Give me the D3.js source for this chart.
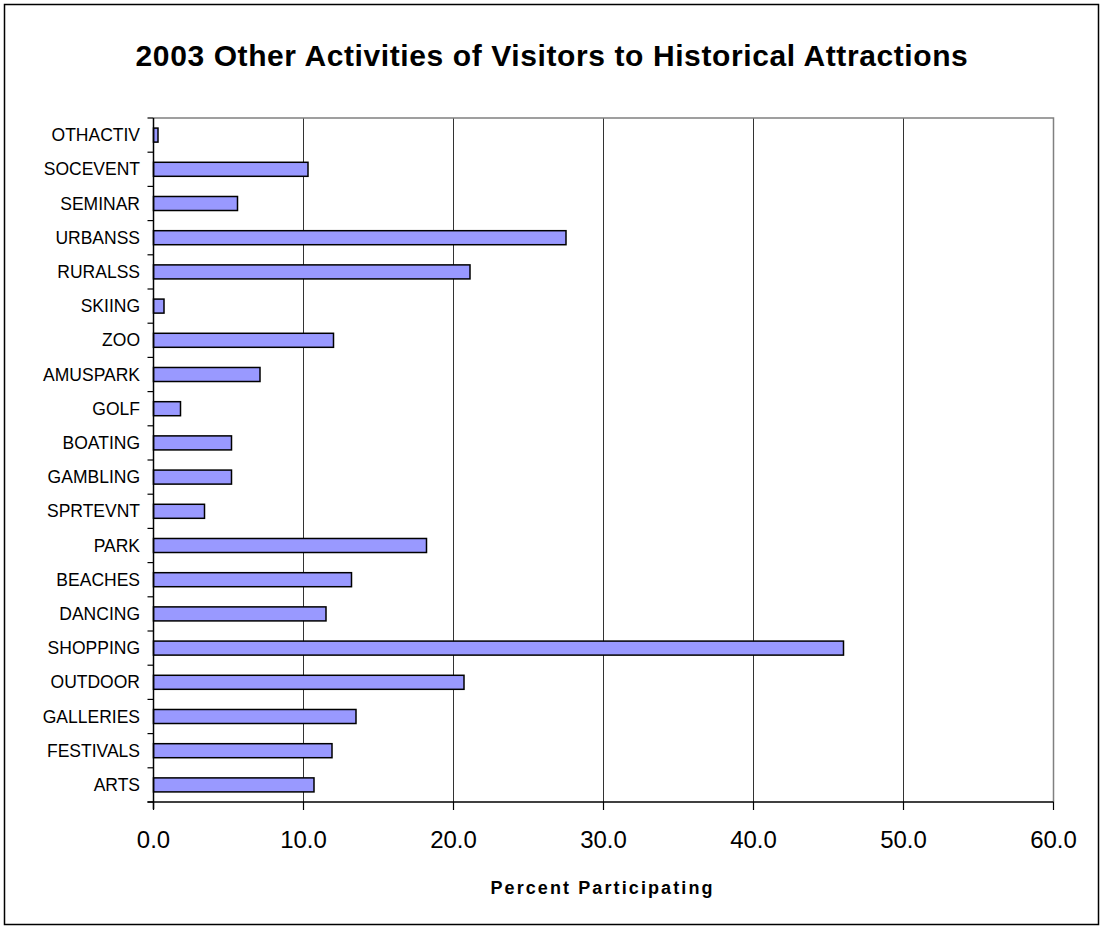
<!DOCTYPE html>
<html>
<head>
<meta charset="utf-8">
<script src="https://cdn.jsdelivr.net/npm/d3@7/dist/d3.min.js"></script>
<style>
  html, body { margin: 0; padding: 0; background: #fff; }
  svg { display: block; font-family: "Liberation Sans", Arial, sans-serif; }
</style>
</head>
<body>
<svg id="chart" width="1100" height="928"></svg>
<script>
const categories = ["OTHACTIV","SOCEVENT","SEMINAR","URBANSS","RURALSS","SKIING","ZOO","AMUSPARK","GOLF","BOATING","GAMBLING","SPRTEVNT","PARK","BEACHES","DANCING","SHOPPING","OUTDOOR","GALLERIES","FESTIVALS","ARTS"];
const values = [0.3,10.3,5.6,27.5,21.1,0.7,12.0,7.1,1.8,5.2,5.2,3.4,18.2,13.2,11.5,46.0,20.7,13.5,11.9,10.7];
const xTicks = [0,10,20,30,40,50,60];
const title = "2003 Other Activities of Visitors to Historical Attractions";
const xTitle = "Percent Participating";

const svg = d3.select("#chart");
const pLeft = 153.5, pRight = 1053.5, pTop = 118, pBottom = 802;

svg.append("rect").attr("x", 4.5).attr("y", 4.5).attr("width", 1094).attr("height", 920)
  .attr("fill", "#fff").attr("stroke", "#000").attr("stroke-width", 1.5);

const x = d3.scaleLinear().domain([0, 60]).range([pLeft, pRight]);
const y = d3.scaleBand().domain(categories).range([pTop, pBottom]).paddingInner(0.59).paddingOuter(0.295);
const yb = d3.scaleBand().domain(categories).range([pTop, pBottom]);

// gridlines
svg.append("g").selectAll("line").data(xTicks.filter(t => t > 0 && t < 60)).join("line")
  .attr("x1", d => x(d)).attr("x2", d => x(d)).attr("y1", pTop).attr("y2", pBottom)
  .attr("stroke", "#333").attr("stroke-width", 1);

// plot border top/right gray
svg.append("path").attr("d", `M${pLeft},${pTop}H${pRight}V${pBottom}`)
  .attr("fill", "none").attr("stroke", "#808080").attr("stroke-width", 1.5);

// bars
svg.append("g").selectAll("rect").data(categories).join("rect")
  .attr("x", pLeft).attr("y", d => y(d)).attr("height", y.bandwidth())
  .attr("width", (d, i) => x(values[i]) - pLeft)
  .attr("fill", "#9999FF").attr("stroke", "#000").attr("stroke-width", 1.5);

// y axis
const yAxis = svg.append("g");
yAxis.append("line").attr("x1", pLeft).attr("x2", pLeft).attr("y1", pTop).attr("y2", pBottom + 7)
  .attr("stroke", "#000").attr("stroke-width", 1.5);
const boundaries = categories.map(c => yb(c)).concat([pBottom]);
yAxis.selectAll("line.tk").data(boundaries).join("line").attr("class", "tk")
  .attr("x1", pLeft - 6).attr("x2", pLeft).attr("y1", d => d).attr("y2", d => d)
  .attr("stroke", "#000").attr("stroke-width", 1.2);
yAxis.selectAll("text").data(categories).join("text")
  .attr("x", 140).attr("y", d => yb(d) + yb.bandwidth() / 2).attr("dy", "0.35em")
  .attr("text-anchor", "end").attr("font-size", 17.5).attr("fill", "#000").text(d => d);

// x axis
const xAxis = svg.append("g");
xAxis.append("line").attr("x1", pLeft - 6).attr("x2", pRight).attr("y1", pBottom).attr("y2", pBottom)
  .attr("stroke", "#000").attr("stroke-width", 1.5);
xAxis.selectAll("line.tk").data(xTicks).join("line").attr("class", "tk")
  .attr("x1", d => x(d)).attr("x2", d => x(d)).attr("y1", pBottom).attr("y2", pBottom + 8)
  .attr("stroke", "#000").attr("stroke-width", 1.2);
xAxis.selectAll("text").data(xTicks).join("text")
  .attr("x", d => x(d)).attr("y", 848).attr("text-anchor", "middle")
  .attr("font-size", 24).attr("fill", "#000").text(d => d3.format(".1f")(d));

svg.append("text").attr("x", (pLeft + pRight) / 2 - 1).attr("y", 894).attr("text-anchor", "middle")
  .attr("font-size", 18).attr("letter-spacing", "2.1px").attr("font-weight", "bold").text(xTitle);

svg.append("text").attr("x", 552).attr("y", 66).attr("text-anchor", "middle")
  .attr("font-size", 30).attr("letter-spacing", "0.6px").attr("font-weight", "bold").text(title);
</script>
</body>
</html>
